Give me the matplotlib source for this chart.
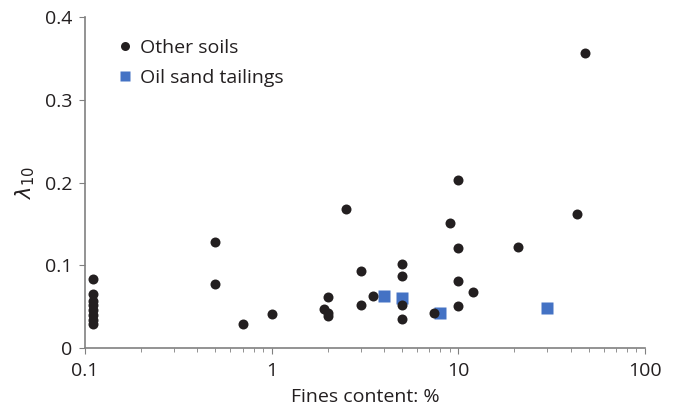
import matplotlib
matplotlib.use("Agg")
import matplotlib.pyplot as plt
from matplotlib.ticker import LogLocator, NullFormatter

plt.rcParams['font.family'] = ['Open Sans', 'DejaVu Sans']

other_x = [0.11, 0.11, 0.11, 0.11, 0.11, 0.11, 0.11, 0.11,
           0.5, 0.5, 0.7, 1.0, 1.9, 2.0, 2.0, 2.0, 2.5, 3.0, 3.0, 3.5,
           5.0, 5.0, 5.0, 5.0, 7.4, 9.0, 10.0, 10.0, 10.0, 10.0, 12.0,
           21.0, 43.0, 48.0]
other_y = [0.084, 0.065, 0.057, 0.052, 0.046, 0.040, 0.034, 0.029,
           0.128, 0.078, 0.029, 0.041, 0.047, 0.062, 0.042, 0.039, 0.168, 0.093, 0.052, 0.063,
           0.102, 0.087, 0.052, 0.035, 0.043, 0.151, 0.203, 0.121, 0.081, 0.051, 0.068,
           0.122, 0.162, 0.356]

oil_x = [4.0, 5.0, 8.0, 30.0]
oil_y = [0.063, 0.060, 0.042, 0.048]

fig = plt.figure(figsize=(6.77, 4.12), dpi=100)
ax = fig.add_axes([0.1256, 0.155, 0.827, 0.804])

ax.plot(other_x, other_y, 'o', color='#231f20', ms=7.2, mec='none', label='Other soils', zorder=3)
ax.plot(oil_x, oil_y, 's', color='#4472c4', ms=8.5, mec='none', label='Oil sand tailings', zorder=2)

ax.set_xscale('log')
ax.set_xlim(0.1, 100)
ax.set_ylim(0, 0.4)
ax.set_xticks([0.1, 1, 10, 100])
ax.set_xticklabels(['0.1', '1', '10', '100'])
ax.xaxis.set_minor_locator(LogLocator(base=10, subs=range(2, 10)))
ax.xaxis.set_minor_formatter(NullFormatter())
ax.set_yticks([0, 0.1, 0.2, 0.3, 0.4])
ax.set_yticklabels(['0', '0.1', '0.2', '0.3', '0.4'])

for s in ['top', 'right']:
    ax.spines[s].set_visible(False)
for s in ['left', 'bottom']:
    ax.spines[s].set_color('#808080')
    ax.spines[s].set_linewidth(1.2)

ax.tick_params(axis='both', which='both', direction='out', color='#808080', labelsize=14, labelcolor='#231f20')
ax.tick_params(axis='x', which='major', length=4, pad=6)
ax.tick_params(axis='x', which='minor', length=3)
ax.tick_params(axis='y', which='major', length=4, pad=5)

ax.set_xlabel('Fines content: %', fontsize=14, color='#231f20', labelpad=6)
ax.set_ylabel(r'$\lambda_{10}$', fontsize=15, color='#231f20', labelpad=6)

leg = ax.legend(loc='upper left', bbox_to_anchor=(0.04, 0.958), frameon=False, fontsize=14,
                handletextpad=0.3, labelspacing=0.65, handlelength=1.0, borderaxespad=0,
                markerscale=0.9)
for t in leg.get_texts():
    t.set_color('#231f20')

fig.savefig('out.png', dpi=100)
